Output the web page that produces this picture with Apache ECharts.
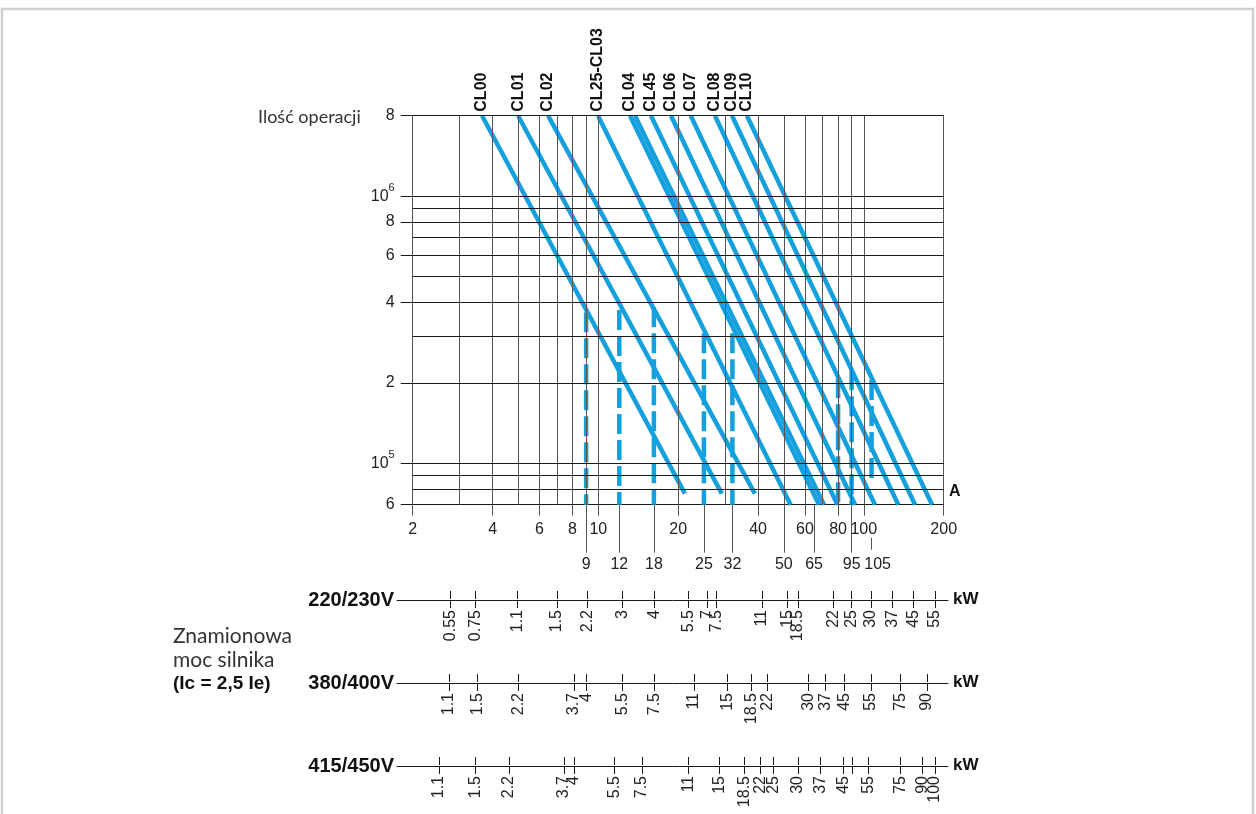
<!DOCTYPE html>
<html><head><meta charset="utf-8">
<script src="https://cdn.jsdelivr.net/npm/echarts@6/dist/echarts.min.js"></script>
<style>html,body{margin:0;padding:0;background:#fff}#c{width:1256px;height:814px}</style>
</head><body><div id="c"></div>
<script>
// ---------- DATA ----------
// contactor life lines (current in A, operations)
const lineNames   = ['CL00','CL01','CL02','CL25-CL03','CL04','','CL45','CL06','CL07','CL08','CL09','CL10'];
const lineTopA    = [3.65, 4.99, 6.47, 9.98, 13.17, 13.75, 15.8, 18.8, 22.3, 27.5, 31.9, 36.3];
const lineTopOps  = [2e6, 2e6, 2e6, 2e6, 2e6, 2e6, 2e6, 2e6, 2e6, 2e6, 2e6, 2e6];
const lineEndA    = [21.2, 29.2, 38.9, 53.0, 67.8, 70.8, 79.6, 92.7, 110.2, 134.9, 156, 180.8];
const lineEndOps  = [7.7e4, 7.7e4, 7.7e4, 7e4, 7e4, 7e4, 7e4, 7e4, 7e4, 7e4, 7e4, 7e4];
// rated-current dashed verticals
const dashA       = [9, 12, 16.2, 25, 32, 80, 90, 107];
const dashTopOps  = [3.68e5, 3.75e5, 3.84e5, 3.07e5, 3.07e5, 2.08e5, 2.23e5, 2.05e5];
const dashEndOps  = [7e4, 7e4, 7e4, 7e4, 7e4, 7e4, 7e4, 8.44e4];
// axes
const xGridVals   = [2,3,4,5,6,7,8,9,10,20,30,40,50,60,70,80,90,100,200];
const yGridVals   = [8e4,9e4,1e5,2e5,3e5,4e5,5e5,6e5,7e5,8e5,9e5,1e6,2e6];
const xRow1Vals   = [2,4,6,8,10,20,40,60,80,100,200];
const xRow1Labels = ['2','4','6','8','10','20','40','60','80','100','200'];
const xRow2Vals   = [9,12,16.2,25,32,50,65,90];
const xRow2Labels = ['9','12','18','25','32','50','65','95'];
const xRow3Vals   = [107];
const xRow3Labels = ['105'];
const yLabVals    = [70001,8e4,1e5,2e5,4e5,6e5,8e5,1e6,1999900];
const yLabels     = ['6','8','10|5','2','4','6','8','10|6','8'];
// motor power scales (position = equivalent current in A)
const kwNames     = ['220/230V','380/400V','415/450V'];
const kw220Labels = ['0.55','0.75','1.1','1.5','2.2','3','4','5.5','7','7.5','11','15','18.5','22','25','30','37','45','55'];
const kw220Pos    = [2.78,3.45,4.95,6.99,9.09,12.34,16.27,21.85,25.8,27.9,41.3,51.6,56.5,77.0,89.7,106.4,127.9,153.9,185.1];
const kw400Labels = ['1.1','1.5','2.2','3.7','4','5.5','7.5','11','15','18.5','22','30','37','45','55','75','90'];
const kw400Pos    = [2.74,3.50,5.01,8.10,9.01,12.34,16.27,22.9,30.6,37.7,43.3,61.8,71.9,84.5,106.4,137.2,172.7];
const kw450Labels = ['1.1','1.5','2.2','3.7','4','5.5','7.5','11','15','18.5','22','25','30','37','45','','55','75','90','100'];
const kw450Pos    = [2.51,3.45,4.61,7.43,8.10,11.51,14.62,21.85,28.6,35.5,40.8,45.7,56.5,68.6,83.7,90.5,104.0,137.2,166.4,185.1];

// ---------- STYLE ----------
const BLUE = '#14a0dc';
const SANS = "'Liberation Sans', Arial, sans-serif";
const ROUND = "Lato, 'Noto Sans', sans-serif";

function pick(vals, labels) {
  return function (v) {
    let best = 0, bd = Infinity;
    vals.forEach(function (x, i) {
      const d = Math.abs(Math.log(x) - Math.log(v));
      if (d < bd) { bd = d; best = i; }
    });
    return labels[best];
  };
}
const yFmtBase = pick(yLabVals, yLabels);
function yFmt(v) {
  const s = yFmtBase(v);
  if (s.indexOf('|') >= 0) { const p = s.split('|'); return '{n|' + p[0] + '}{s|' + p[1] + '}'; }
  return '{n|' + s + '}';
}

const grids = [
  {left: 412.7, top: 115.7, width: 531, height: 389, outerBoundsMode: 'none', containLabel: false}
];
const rowY = [600, 683, 766];
rowY.forEach(function (y) {
  grids.push({left: 397, top: y - 1, width: 551, height: 1, outerBoundsMode: 'none', containLabel: false});
});

const labCommon = {fontSize: 16, fontFamily: SANS, color: '#222', showMinLabel: true, showMaxLabel: true, hideOverlap: false};
const xAxes = [
  {type: 'log', logBase: 10, gridIndex: 0, min: 2, max: 200, position: 'bottom',
   axisLine: {show: true, lineStyle: {color: '#1a1a1a', width: 1}},
   axisTick: {show: true, customValues: xRow1Vals, length: 11, lineStyle: {color: '#555', width: 1}},
   axisLabel: Object.assign({show: true, customValues: xRow1Vals, formatter: pick(xRow1Vals, xRow1Labels), margin: 17}, labCommon),
   splitLine: {show: false}, minorTick: {show: false}},
  {type: 'log', logBase: 10, gridIndex: 0, min: 2, max: 200, position: 'bottom',
   axisLine: {show: false},
   axisTick: {show: true, customValues: xRow2Vals, length: 48, lineStyle: {color: '#555', width: 1}},
   axisLabel: Object.assign({show: true, customValues: xRow2Vals, formatter: pick(xRow2Vals, xRow2Labels), margin: 52}, labCommon),
   splitLine: {show: false}},
  {type: 'log', logBase: 10, gridIndex: 0, min: 2, max: 200, position: 'bottom', offset: 33,
   axisLine: {show: false},
   axisTick: {show: true, customValues: xRow3Vals, length: 12, lineStyle: {color: '#555', width: 1}},
   axisLabel: Object.assign({show: true, customValues: xRow3Vals, formatter: pick(xRow3Vals, xRow3Labels), margin: 19,
               padding: [0, 0, 0, 12]}, labCommon),
   splitLine: {show: false}}
];
const yAxes = [
  {type: 'log', logBase: 10, gridIndex: 0, min: 7e4, max: 2e6,
   axisLine: {show: false},
   axisTick: {show: true, customValues: yLabVals, length: 12, lineStyle: {color: '#1a1a1a', width: 1}},
   axisLabel: {show: true, customValues: yLabVals, formatter: yFmt, margin: 18, color: '#222',
               showMinLabel: true, showMaxLabel: true, hideOverlap: false,
               rich: {n: {fontSize: 16, lineHeight: 28, fontFamily: SANS, color: '#222'},
                      s: {fontSize: 11, lineHeight: 14, verticalAlign: 'top', fontFamily: SANS, color: '#222'}}},
   splitLine: {show: false}}
];
const kwPos = [kw220Pos, kw400Pos, kw450Pos];
const kwLab = [kw220Labels, kw400Labels, kw450Labels];
kwPos.forEach(function (pos, r) {
  const gi = r + 1;
  // split ticks into two interleaved sets so neighbouring labels never get auto-hidden
  [0, 1].forEach(function (par) {
    const vals = pos.filter(function (v, i) { return i % 2 === par; });
    const labs = kwLab[r].filter(function (v, i) { return i % 2 === par; });
    const ax = {type: 'log', logBase: 10, gridIndex: gi, min: 1.7454, max: 207.6, position: 'bottom',
      axisLine: {show: par === 0, lineStyle: {color: '#1a1a1a', width: 1}},
      axisTick: {show: true, customValues: vals, length: 8, lineStyle: {color: '#1a1a1a', width: 1}},
      axisLabel: {show: true, customValues: vals, formatter: pick(vals, labs), rotate: 90, margin: 10,
                  showMinLabel: true, showMaxLabel: true, hideOverlap: false,
                  fontSize: 16, fontFamily: SANS, color: '#222'},
      splitLine: {show: false}};
    if (par === 0) {
      ax.name = kwNames[r]; ax.nameLocation = 'start'; ax.nameGap = 3;
      ax.nameTextStyle = {fontFamily: SANS, fontWeight: 'bold', fontSize: 20, color: '#111'};
    }
    xAxes.push(ax);
  });
  xAxes.push({type: 'log', logBase: 10, gridIndex: gi, min: 1.7454, max: 207.6, position: 'top',
    axisLine: {show: false},
    axisTick: {show: true, customValues: pos, length: 8, lineStyle: {color: '#1a1a1a', width: 1}},
    axisLabel: {show: false}, splitLine: {show: false},
    name: 'kW', nameLocation: 'end', nameGap: 5,
    nameTextStyle: {fontFamily: SANS, fontWeight: 'bold', fontSize: 17, color: '#111'}});
  yAxes.push({type: 'value', gridIndex: gi, min: 0, max: 1, show: false});
});

const series = [];
// grid lines
series.push({
  type: 'line', xAxisIndex: 0, yAxisIndex: 0, data: [[2, 7e4]], symbol: 'none', silent: true,
  lineStyle: {opacity: 0},
  markLine: {
    silent: true, symbol: ['none', 'none'], label: {show: false}, animation: false,
    data: xGridVals.map(function (v) { return {xAxis: v, lineStyle: {color: '#555', width: 1, type: 'solid'}}; })
      .concat(yGridVals.map(function (v) { return {yAxis: v, lineStyle: {color: '#1a1a1a', width: 1, type: 'solid'}}; }))
  }
});
// life lines
lineNames.forEach(function (nm, i) {
  series.push({
    type: 'line', xAxisIndex: 0, yAxisIndex: 0, z: 4, silent: true,
    showSymbol: true, symbol: 'circle', symbolSize: 0,
    lineStyle: {color: BLUE, width: 4.5, cap: 'butt'}, itemStyle: {color: BLUE},
    label: {show: false},
    data: [
      {value: [lineTopA[i], lineTopOps[i]],
       label: {show: nm !== '', formatter: nm, position: 'top', distance: 4, rotate: 90,
               align: 'left', verticalAlign: 'middle',
               fontFamily: SANS, fontWeight: 'bold', fontSize: 16, color: '#111'}},
      [lineEndA[i], lineEndOps[i]]
    ]
  });
});
// dashed rated-current lines
dashA.forEach(function (a, i) {
  series.push({
    type: 'line', xAxisIndex: 0, yAxisIndex: 0, z: 4, silent: true, symbol: 'none',
    lineStyle: {color: BLUE, width: 4.5, type: [20, 6], cap: 'butt'},
    data: [[a, dashTopOps[i]], [a, dashEndOps[i]]]
  });
});

const option = {
  animation: false,
  backgroundColor: '#ffffff',
  textStyle: {fontFamily: SANS},
  grid: grids, xAxis: xAxes, yAxis: yAxes, series: series,
  graphic: [
    {type: 'rect', silent: true, z: -10, shape: {x: 2, y: 9, width: 1251, height: 840},
     style: {fill: null, stroke: '#d0d0d0', lineWidth: 2.5}},
    {type: 'text', x: 258, y: 117, silent: true,
     style: {text: 'Ilość operacji', fontSize: 18, fontFamily: ROUND, fill: '#333', align: 'left', verticalAlign: 'middle'}},
    {type: 'text', x: 173, y: 636, silent: true,
     style: {text: 'Znamionowa', fontSize: 21, fontFamily: ROUND, fill: '#333', align: 'left', verticalAlign: 'middle'}},
    {type: 'text', x: 173, y: 660, silent: true,
     style: {text: 'moc silnika', fontSize: 21, fontFamily: ROUND, fill: '#333', align: 'left', verticalAlign: 'middle'}},
    {type: 'text', x: 173, y: 684, silent: true,
     style: {text: '(Ic = 2,5 Ie)', fontSize: 19, fontWeight: 'bold', fontFamily: SANS, fill: '#111', align: 'left', verticalAlign: 'middle'}},
    {type: 'text', x: 949, y: 492, silent: true,
     style: {text: 'A', fontSize: 16, fontWeight: 'bold', fontFamily: SANS, fill: '#111', align: 'left', verticalAlign: 'middle'}}
  ]
};
const chart = echarts.init(document.getElementById('c'), null, {renderer: 'canvas'});
chart.setOption(option);
</script>
</body></html>
